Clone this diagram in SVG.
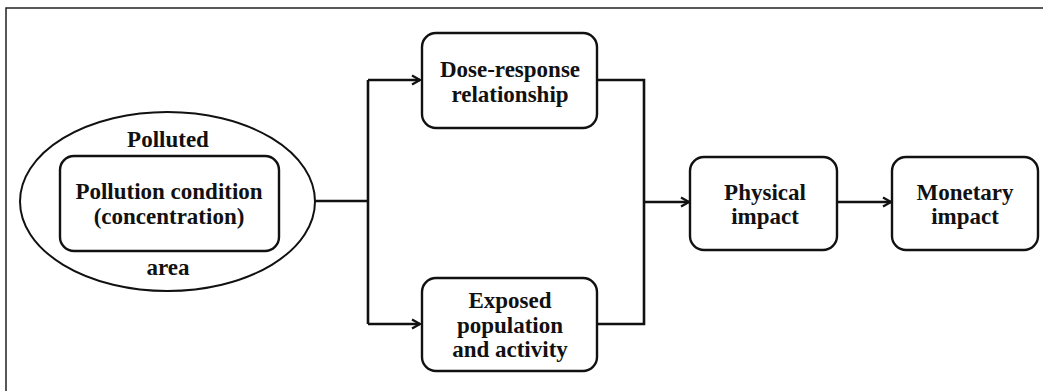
<svg xmlns="http://www.w3.org/2000/svg" width="1043" height="391" viewBox="0 0 1043 391">
<style>
.box{fill:#fff;stroke:#111;stroke-width:2.4}
.t{font-family:"Liberation Serif","Times New Roman",serif;font-weight:bold;font-size:23px;fill:#111;text-anchor:middle}
.c{fill:none;stroke:#111;stroke-width:2.6}
</style>
<defs>
<marker id="ah" viewBox="0 0 12 12" refX="11" refY="6" markerWidth="12" markerHeight="12" markerUnits="userSpaceOnUse" orient="auto">
<path d="M3,1.5 L11,6 L3,10.5" fill="none" stroke="#111" stroke-width="2.2"/>
</marker>
</defs>
<rect width="1043" height="391" fill="#fff"/>
<rect x="6" y="8" width="1045" height="400" fill="none" stroke="#222" stroke-width="1.5"/>
<g id="connectors">
<path class="c" d="M315,201 H368 M368,80 V324"/>
<path class="c" d="M368,80 H420" marker-end="url(#ah)"/>
<path class="c" d="M368,324 H420" marker-end="url(#ah)"/>
<path class="c" d="M597,80 H644 V324 H597"/>
<path class="c" d="M644,202 H689" marker-end="url(#ah)"/>
<path class="c" d="M837,202 H891" stroke-width="2" marker-end="url(#ah)"/>
</g>
<g id="polluted-area">
<ellipse cx="167.5" cy="201.5" rx="147.5" ry="89.5" fill="#fff" stroke="#111" stroke-width="2"/>
<text class="t" x="168" y="147">Polluted</text>
<text class="t" x="168" y="275">area</text>
</g>
<g id="pollution-condition">
<rect class="box" x="60" y="156" width="219" height="95" rx="14"/>
<text class="t" x="169" y="199">Pollution condition</text>
<text class="t" x="169" y="224">(concentration)</text>
</g>
<g id="dose-response">
<rect class="box" x="422" y="33" width="175" height="95" rx="14"/>
<text class="t" x="510" y="77">Dose-response</text>
<text class="t" x="510" y="102">relationship</text>
</g>
<g id="exposed">
<rect class="box" x="422" y="278" width="175" height="93" rx="14"/>
<text class="t" x="510" y="308">Exposed</text>
<text class="t" x="510" y="333">population</text>
<text class="t" x="510" y="357">and activity</text>
</g>
<g id="physical">
<rect class="box" x="690" y="157" width="147" height="93" rx="14"/>
<text class="t" x="765" y="200">Physical</text>
<text class="t" x="765" y="224">impact</text>
</g>
<g id="monetary">
<rect class="box" x="892" y="157" width="146" height="93" rx="14"/>
<text class="t" x="965" y="200">Monetary</text>
<text class="t" x="965" y="224">impact</text>
</g>
</svg>
